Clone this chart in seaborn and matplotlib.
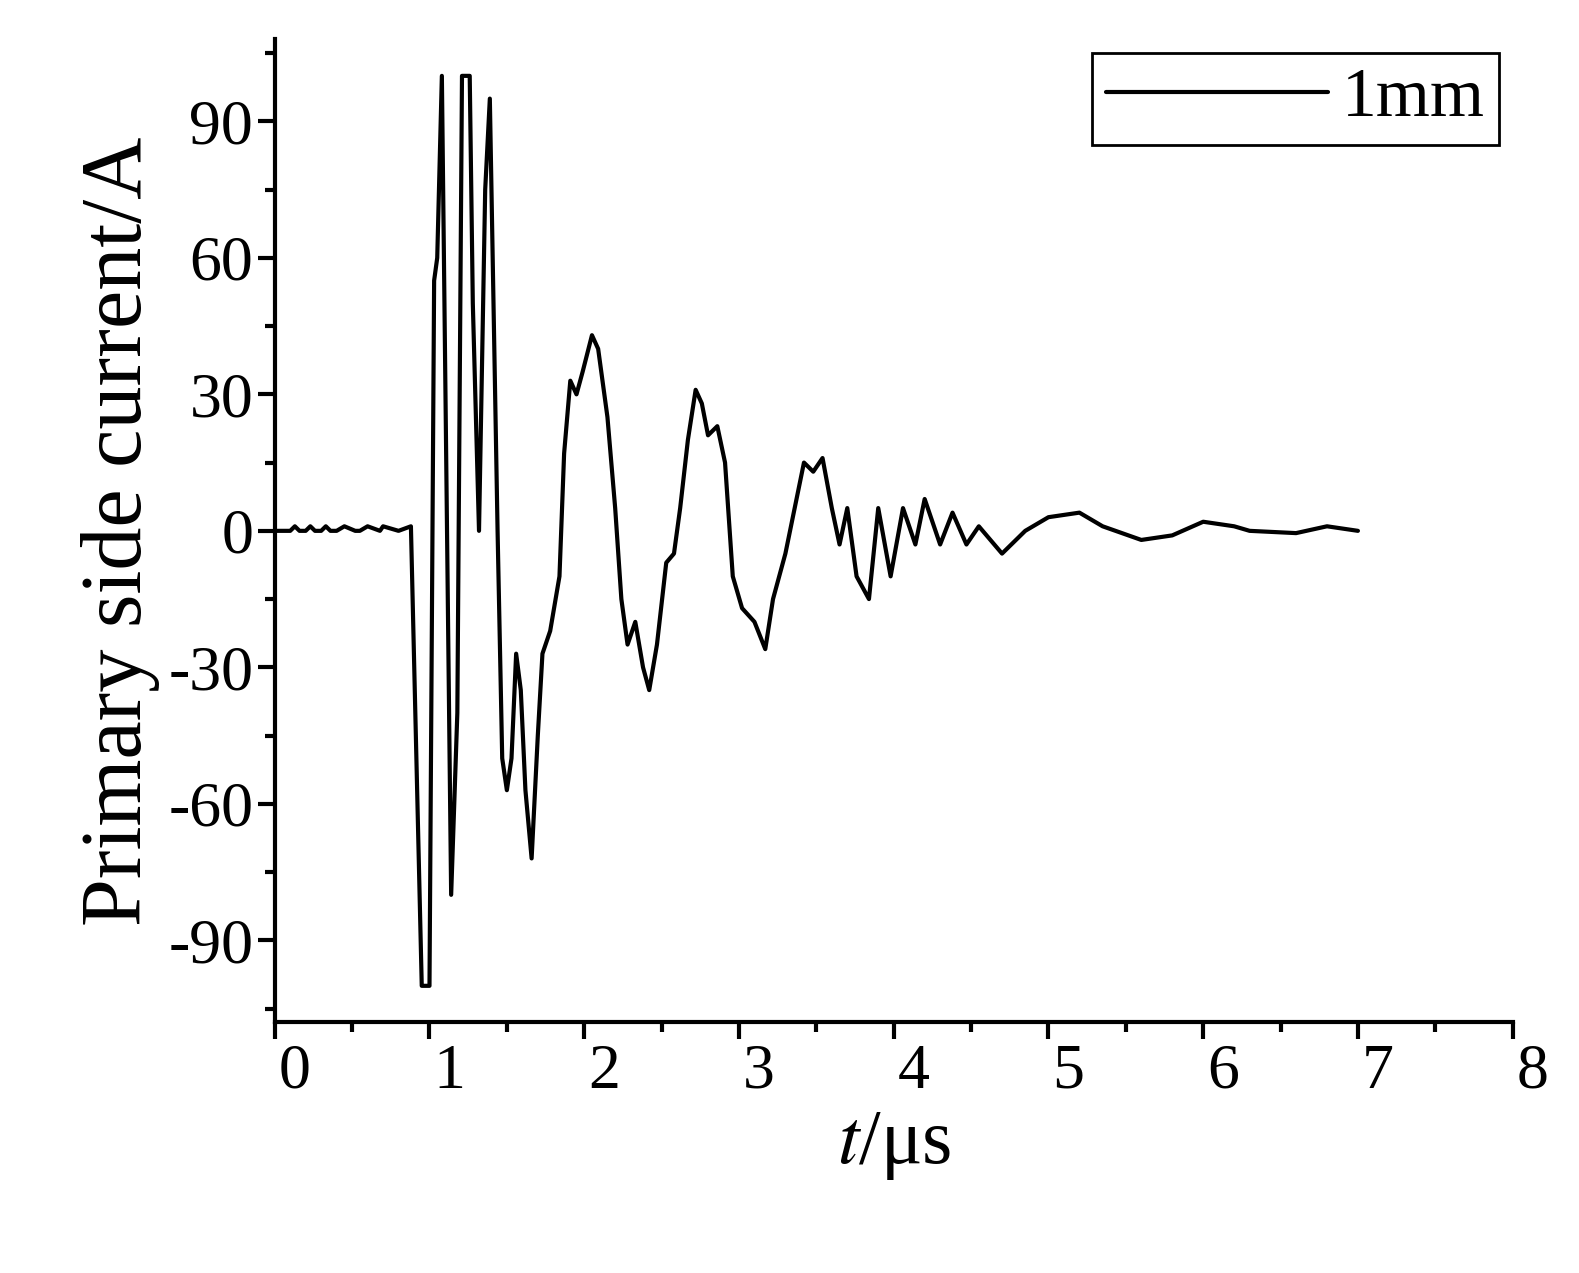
import numpy as np
import pandas as pd
import matplotlib
matplotlib.use("Agg")
import matplotlib.pyplot as plt
import matplotlib.transforms as mtransforms
from matplotlib.ticker import MultipleLocator
import seaborn as sns

# waveform (t in us, current in A)
t_us = [0.0, 0.1, 0.13, 0.16, 0.2, 0.23, 0.26, 0.3, 0.33, 0.36, 0.4, 0.45, 0.52, 0.55, 0.6, 0.68, 0.7, 0.8, 0.88,
        0.95, 1.0, 1.03, 1.05, 1.08, 1.14, 1.18, 1.21, 1.26, 1.28, 1.32, 1.36, 1.39,
        1.44, 1.47, 1.5, 1.53, 1.56, 1.59, 1.62, 1.66, 1.7, 1.73, 1.78, 1.84, 1.87, 1.91, 1.95,
        1.99, 2.05, 2.09, 2.15, 2.2, 2.24, 2.28, 2.33, 2.38, 2.42, 2.47, 2.53, 2.58, 2.62,
        2.67, 2.72, 2.76, 2.8, 2.86, 2.91, 2.96, 3.02, 3.1, 3.17, 3.22, 3.3, 3.36, 3.42,
        3.48, 3.54, 3.6, 3.65, 3.7, 3.76, 3.84, 3.9, 3.98, 4.06, 4.14, 4.2, 4.3, 4.38,
        4.47, 4.55, 4.7, 4.85, 5.0, 5.2, 5.35, 5.6, 5.8, 6.0, 6.2, 6.3, 6.6, 6.8, 6.9, 7.0]
current_a = [0, 0, 1, 0, 0, 1, 0, 0, 1, 0, 0, 1, 0, 0, 1, 0, 1, 0, 1,
             -100, -100, 55, 60, 100, -80, -40, 100, 100, 50, 0, 75, 95,
             0, -50, -57, -50, -27, -35, -57, -72, -45, -27, -22, -10, 17, 33, 30,
             35, 43, 40, 25, 5, -15, -25, -20, -30, -35, -25, -7, -5, 5,
             20, 31, 28, 21, 23, 15, -10, -17, -20, -26, -15, -5, 5, 15,
             13, 16, 5, -3, 5, -10, -15, 5, -10, 5, -3, 7, -3, 4,
             -3, 1, -5, 0, 3, 4, 1, -2, -1, 2, 1, 0, -0.5, 1, 0.5, 0]
legend_label = "1mm"

df = pd.DataFrame({"t": t_us, "i": current_a, "case": legend_label})

sns.set_style("ticks")
plt.rcParams["font.family"] = ["Liberation Serif", "DejaVu Serif"]
plt.rcParams["mathtext.fontset"] = "stix"
plt.rcParams["axes.unicode_minus"] = False
plt.rcParams["text.color"] = "black"
plt.rcParams["xtick.color"] = "black"
plt.rcParams["ytick.color"] = "black"
plt.rcParams["axes.labelcolor"] = "black"

fig = plt.figure(figsize=(15.79, 12.73), dpi=100)
ax = fig.add_axes([0.174, 0.197, 0.784, 0.772])
sns.lineplot(data=df, x="t", y="i", hue="case", palette=["black"], linewidth=3, ax=ax)

ax.set_xlim(0, 8)
ax.set_ylim(-108, 108)
ax.xaxis.set_major_locator(MultipleLocator(1))
ax.xaxis.set_minor_locator(MultipleLocator(0.5))
ax.yaxis.set_major_locator(MultipleLocator(30))
ax.yaxis.set_minor_locator(MultipleLocator(15))
ax.tick_params(which="major", length=12, width=3, labelsize=46, direction="out")
ax.tick_params(which="minor", length=7, width=3, direction="out")
for lab in ax.get_xticklabels():
    lab.set_transform(lab.get_transform() + mtransforms.ScaledTranslation(0.2, 0, fig.dpi_scale_trans))
for s in ["top", "right"]:
    ax.spines[s].set_visible(False)
for s in ["left", "bottom"]:
    ax.spines[s].set_linewidth(3)
    ax.spines[s].set_color("black")

ax.set_xlabel(r"$t$/μs", fontsize=56, labelpad=6)
ax.set_ylabel("Primary side current/A", fontsize=62, labelpad=6)

leg = ax.legend(loc="upper right", fontsize=50, fancybox=False, edgecolor="black",
                handlelength=3.2, handletextpad=0.2, borderaxespad=0.2, framealpha=1,
                borderpad=0.2)
leg.get_frame().set_linewidth(2)
leg.set_title(None)

fig.savefig("out.png", dpi=100)
